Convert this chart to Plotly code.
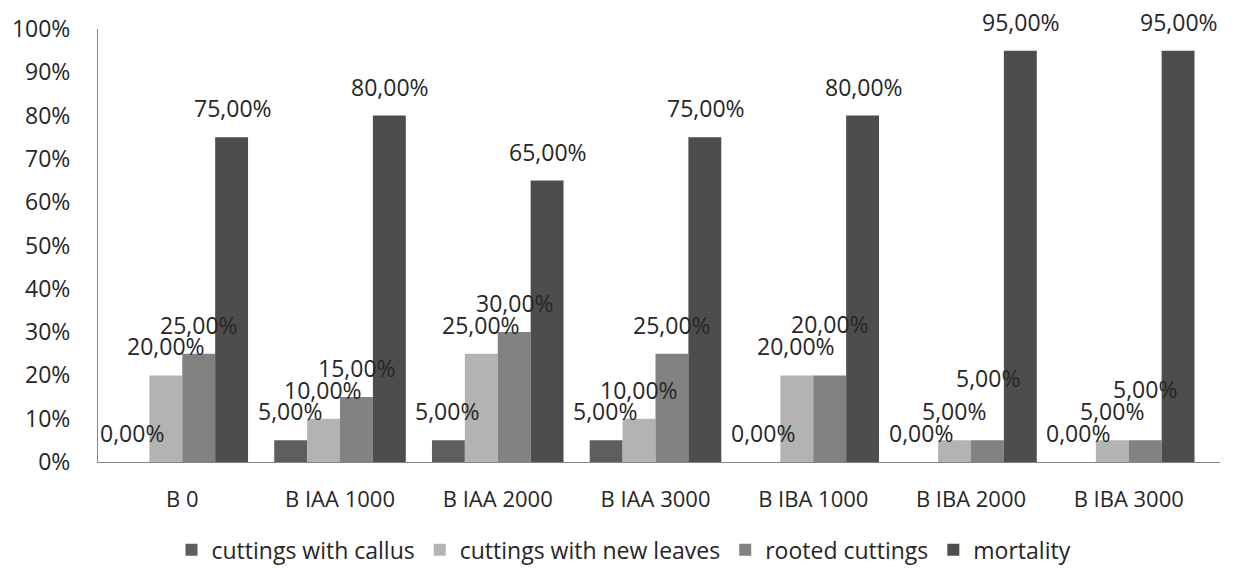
import plotly.graph_objects as go

categories = ["B 0", "B IAA 1000", "B IAA 2000", "B IAA 3000", "B IBA 1000", "B IBA 2000", "B IBA 3000"]
series_names = ["cuttings with callus", "cuttings with new leaves", "rooted cuttings", "mortality"]
callus = [0.00, 0.05, 0.05, 0.05, 0.00, 0.00, 0.00]
new_leaves = [0.20, 0.10, 0.25, 0.10, 0.20, 0.05, 0.05]
rooted = [0.25, 0.15, 0.30, 0.25, 0.20, 0.05, 0.05]
mortality = [0.75, 0.80, 0.65, 0.75, 0.80, 0.95, 0.95]
y_ticks = [0, 0.1, 0.2, 0.3, 0.4, 0.5, 0.6, 0.7, 0.8, 0.9, 1.0]

colors = ["#5e5e5e", "#b3b3b3", "#828282", "#4d4d4d"]
font_family = "Open Sans, DejaVu Sans, sans-serif"
text_color = "#262626"

W, H = 1248, 568
margin = dict(l=95, r=28, t=25, b=106)
plot_w = W - margin["l"] - margin["r"]
bargap = 0.166
cat_px = plot_w / len(categories)
bar_px = cat_px * (1 - bargap) / len(series_names)

# extra lift (px) for labels that would otherwise collide with a neighbour
label_lift = {(2, 4): 22, (2, 5): 33, (2, 6): 22}

fig = go.Figure()
all_series = [callus, new_leaves, rooted, mortality]
for name, vals, col in zip(series_names, all_series, colors):
    fig.add_trace(go.Bar(
        x=categories, y=vals, name=name,
        marker=dict(color=col, line=dict(width=0)),
    ))

# value labels centred above each bar
for i, vals in enumerate(all_series):
    shift = (i - (len(series_names) - 1) / 2) * bar_px
    for j, (cat, v) in enumerate(zip(categories, vals)):
        fig.add_annotation(
            x=cat, y=v, xref="x", yref="y",
            text=f"{v * 100:.2f}%".replace(".", ","),
            showarrow=False, xshift=shift, yshift=29 + label_lift.get((i, j), 0),
            yanchor="middle", xanchor="center",
            font=dict(family=font_family, size=23, color=text_color),
        )

fig.update_layout(
    width=W, height=H,
    margin=margin,
    barmode="group", bargap=bargap, bargroupgap=0,
    plot_bgcolor="white", paper_bgcolor="white",
    font=dict(family=font_family, size=23, color=text_color),
    showlegend=True,
    legend=dict(
        orientation="h", xref="container", yref="container",
        x=0.5, xanchor="center", y=0.032, yanchor="middle",
        font=dict(size=23, color=text_color),
        traceorder="normal",
    ),
    xaxis=dict(
        type="category", showline=True, linecolor="#868686", linewidth=1,
        showgrid=False, ticks="", ticklabelstandoff=18,
        tickfont=dict(size=22),
    ),
    yaxis=dict(
        range=[0, 1.0], tickvals=y_ticks, tickformat=".0%",
        showline=True, linecolor="#868686", linewidth=1,
        showgrid=False, zeroline=False, ticks="", ticklabelstandoff=22,
        tickfont=dict(size=23),
    ),
)

fig.write_html("out.html")
